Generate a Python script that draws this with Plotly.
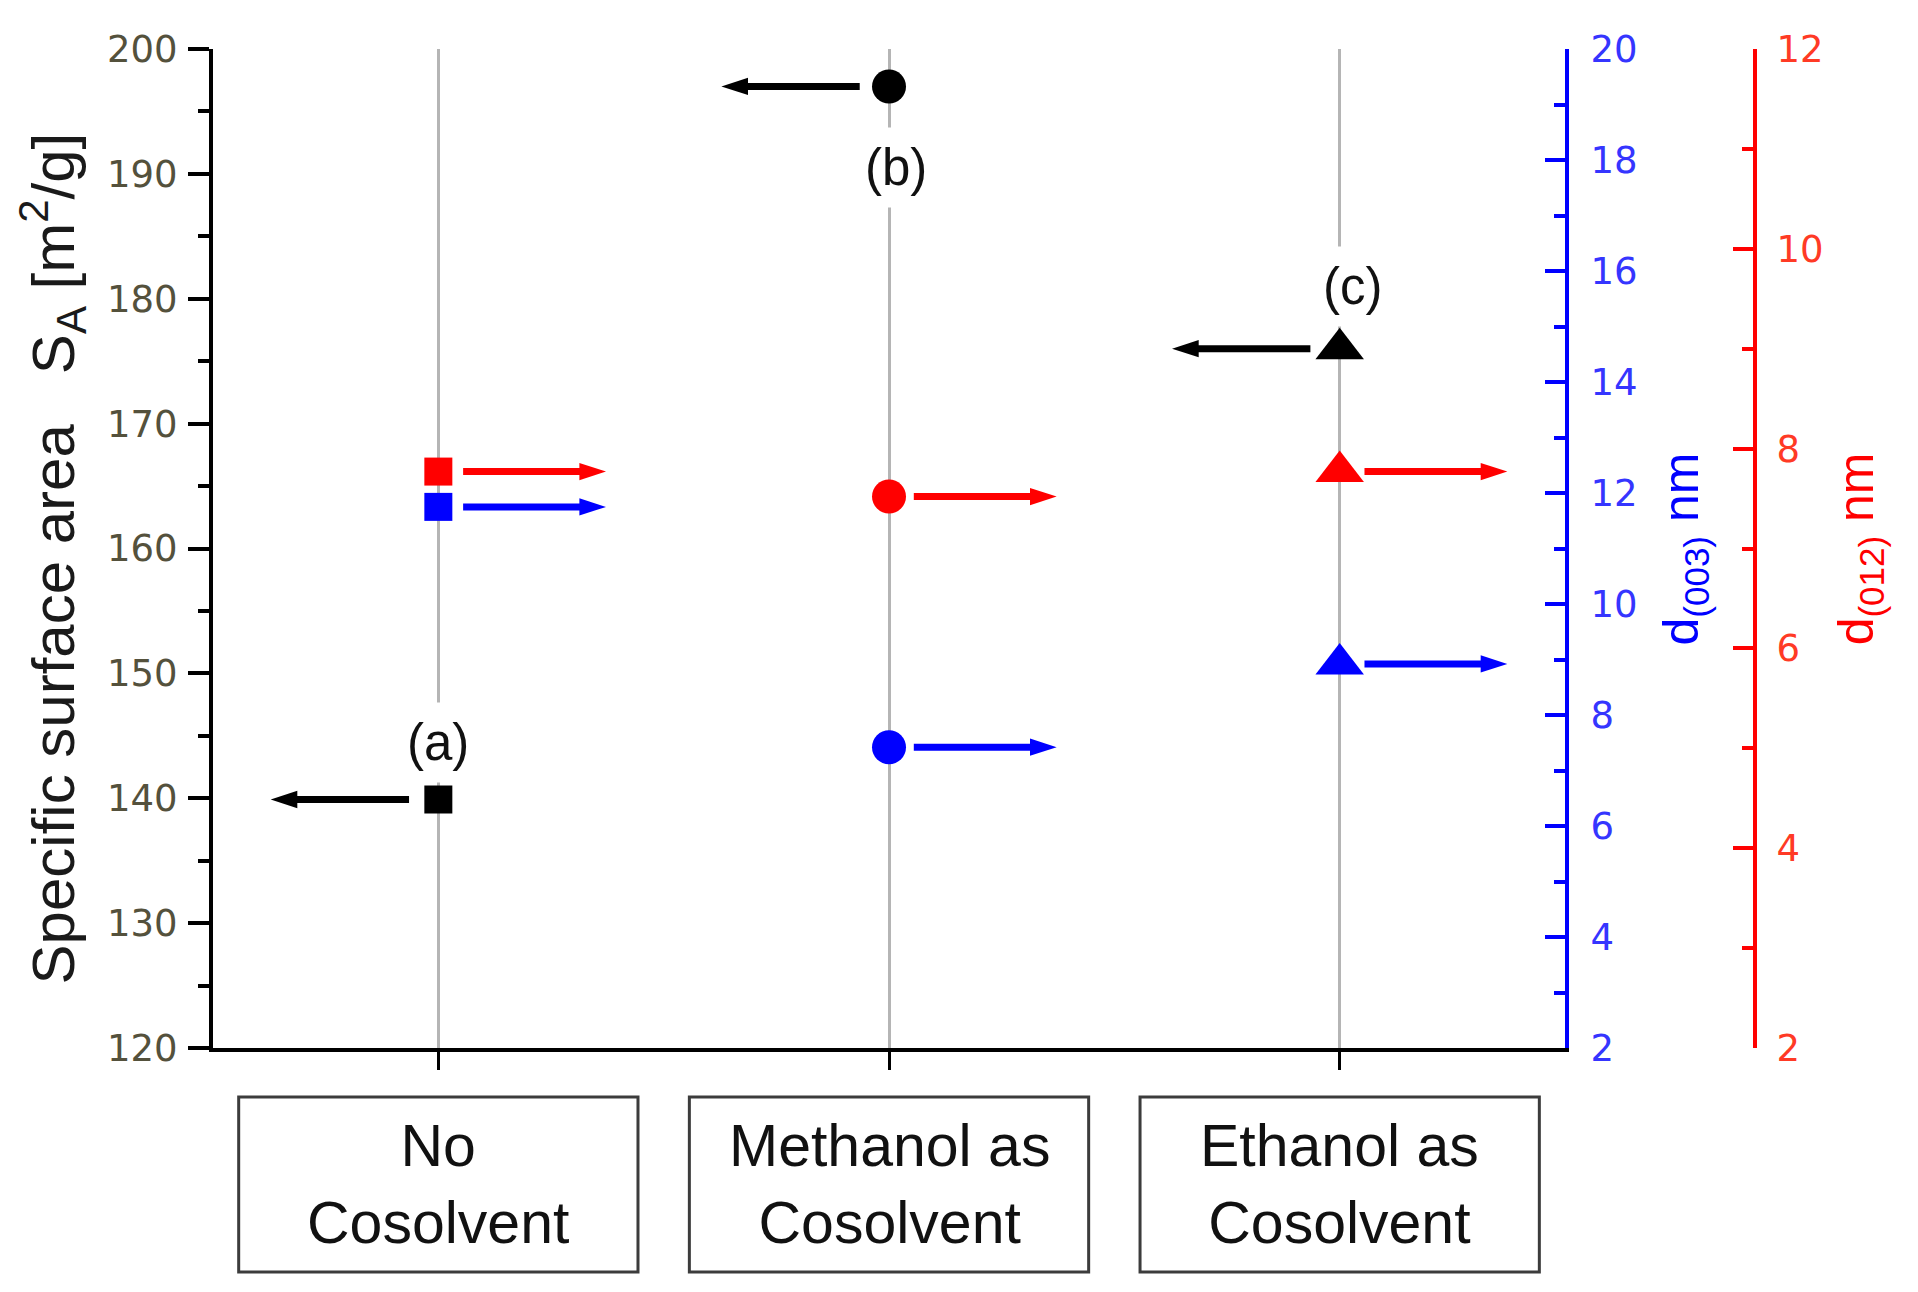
"""
Surface area and crystallite size of the LDH samples, by cosolvent.

Left axis: specific surface area (black). Right axes: d(003) (blue)
and d(012) (red) crystallite sizes. Arrows point at the axis each
marker belongs to.
"""

from __future__ import annotations

import plotly.graph_objects as go

# ---- data -----------------------------------------------------------------
CATEGORIES = ["No<br>Cosolvent", "Methanol as<br>Cosolvent", "Ethanol as<br>Cosolvent"]
SAMPLE_TAGS = ["(a)", "(b)", "(c)"]
SYMBOLS = ["square", "circle", "triangle-up"]

SURFACE_AREA = [139.9, 197.0, 176.0]  # m2/g
D003 = [11.75, 7.42, 8.92]  # nm
D012 = [7.77, 7.52, 7.77]  # nm

SA_TICKS = [120, 130, 140, 150, 160, 170, 180, 190, 200]
D003_TICKS = [2, 4, 6, 8, 10, 12, 14, 16, 18, 20]
D012_TICKS = [2, 4, 6, 8, 10, 12]

# ---- style ----------------------------------------------------------------
BLACK = "#000000"
BLUE = "#0000ff"
RED = "#ff0000"
GRID = "#b5b5b5"
SA_TICK_TEXT = "#54513c"
BLUE_TEXT = "#3535ff"
RED_TEXT = "#ff3a25"

TEXT_FONT = "Liberation Sans, Arial, sans-serif"
TICK_FONT = "DejaVu Sans, sans-serif"

MARKER_SIZE = {"square": 28, "circle": 34, "triangle-up": 42}

# page body has an 8px margin, so the figure is drawn 16px smaller
WIDTH, HEIGHT = 1902, 1276
X_DOMAIN_END = 0.8768  # blue axis sits here, red axis at the far right

# tag label offsets (px) relative to the black marker
TAG_SHIFT = [(0, 57), (7, -81), (13, 62)]


def _arrow_trace(xs, values, yaxis, color, direction, gap):
    """Horizontal arrows beside the markers, pointing at their axis."""
    ax, ay, sizes = [], [], []
    for x, v in zip(xs, values):
        ax += [x + direction * gap, x + direction * 0.372, None]
        ay += [v, v, None]
        sizes += [0, 28, 0]
    return go.Scatter(
        x=ax,
        y=ay,
        yaxis=yaxis,
        mode="lines+markers",
        line=dict(color=color, width=7),
        marker=dict(
            symbol="arrow",
            angleref="previous",
            size=sizes,
            color=color,
            opacity=1,
            line=dict(width=0),
        ),
        showlegend=False,
        hoverinfo="skip",
    )


def build_figure() -> go.Figure:
    xs = list(range(1, len(CATEGORIES) + 1))
    sizes = [MARKER_SIZE[s] for s in SYMBOLS]

    fig = go.Figure()
    fig.add_trace(_arrow_trace(xs, SURFACE_AREA, "y", BLACK, -1, 0.065))
    fig.add_trace(_arrow_trace(xs, D003, "y2", BLUE, 1, 0.055))
    fig.add_trace(_arrow_trace(xs, D012, "y3", RED, 1, 0.055))

    for values, color, yaxis in [
        (SURFACE_AREA, BLACK, "y"),
        (D003, BLUE, "y2"),
        (D012, RED, "y3"),
    ]:
        fig.add_trace(
            go.Scatter(
                x=xs,
                y=values,
                yaxis=yaxis,
                mode="markers",
                marker=dict(
                    symbol=SYMBOLS, size=sizes, color=color,
                    opacity=1, line=dict(width=0),
                ),
                showlegend=False,
                hoverinfo="y",
            )
        )

    annotations = []
    for i, x in enumerate(xs):
        dx, dy = TAG_SHIFT[i]
        annotations.append(
            dict(
                x=x, y=SURFACE_AREA[i], xref="x", yref="y",
                text=SAMPLE_TAGS[i], showarrow=False,
                xshift=dx, yshift=dy,
                font=dict(family=TEXT_FONT, size=51, color="#111111"),
                bgcolor="white", borderpad=11,
            )
        )

        # category label inside its box under the axis
        annotations.append(
            dict(
                x=x, y=-0.137, xref="x", yref="paper",
                text=CATEGORIES[i], showarrow=False,
                xanchor="center", yanchor="middle",
                font=dict(family=TEXT_FONT, size=59, color="#111111"),
            )
        )
        fig.add_shape(
            type="rect",
            xref="x", yref="paper",
            x0=x - 0.443, x1=x + 0.443,
            y0=-0.2242, y1=-0.049,
            line=dict(color="#3c3c3c", width=3),
            fillcolor="rgba(0,0,0,0)",
        )

    # axis titles
    annotations += [
        dict(
            x=-0.1038, y=0.49, xref="paper", yref="paper",
            text="Specific surface area&nbsp;&nbsp;&nbsp;S<sub>A</sub> [m<sup>2</sup>/g]",
            textangle=-90, showarrow=False,
            xanchor="center", yanchor="middle",
            font=dict(family=TEXT_FONT, size=60, color="#1a1a1a"),
        ),
        dict(
            x=0.9546, y=0.5, xref="paper", yref="paper",
            text="d<sub>(003)</sub> nm",
            textangle=-90, showarrow=False,
            xanchor="center", yanchor="middle",
            font=dict(family=TEXT_FONT, size=50, color=BLUE),
        ),
        dict(
            x=1.068, y=0.5, xref="paper", yref="paper",
            text="d<sub>(012)</sub> nm",
            textangle=-90, showarrow=False,
            xanchor="center", yanchor="middle",
            font=dict(family=TEXT_FONT, size=50, color=RED),
        ),
    ]

    fig.update_layout(
        width=WIDTH,
        height=HEIGHT,
        margin=dict(l=205, r=155, t=41, b=236),
        paper_bgcolor="white",
        plot_bgcolor="white",
        showlegend=False,
        annotations=annotations,
        xaxis=dict(
            domain=[0, X_DOMAIN_END],
            range=[0.5, len(CATEGORIES) + 0.5],
            tickvals=xs,
            showticklabels=False,
            ticks="outside", ticklen=18, tickwidth=3, tickcolor=BLACK,
            showline=True, linecolor=BLACK, linewidth=4,
            showgrid=True, gridcolor=GRID, gridwidth=3,
            zeroline=False,
        ),
        yaxis=dict(
            range=[SA_TICKS[0], SA_TICKS[-1]],
            tickvals=SA_TICKS,
            ticks="outside", ticklen=21, tickwidth=4, tickcolor=BLACK,
            minor=dict(tick0=SA_TICKS[0], dtick=5, ticks="outside",
                       ticklen=11, tickwidth=4, tickcolor=BLACK),
            showline=True, linecolor=BLACK, linewidth=4,
            showgrid=False, zeroline=False,
            tickfont=dict(family=TICK_FONT, size=37, color=SA_TICK_TEXT),
            ticklabelstandoff=3,
        ),
        yaxis2=dict(
            overlaying="y", side="right", anchor="x",
            range=[D003_TICKS[0], D003_TICKS[-1]],
            tickvals=D003_TICKS,
            ticks="inside", ticklen=20, tickwidth=4, tickcolor=BLUE,
            minor=dict(tick0=D003_TICKS[0], dtick=1, ticks="inside",
                       ticklen=11, tickwidth=4, tickcolor=BLUE),
            showline=True, linecolor=BLUE, linewidth=4,
            showgrid=False, zeroline=False,
            tickfont=dict(family=TICK_FONT, size=37, color=BLUE_TEXT),
            ticklabelstandoff=14,
        ),
        yaxis3=dict(
            overlaying="y", side="right", anchor="free", position=1.0,
            range=[D012_TICKS[0], D012_TICKS[-1]],
            tickvals=D012_TICKS,
            ticks="inside", ticklen=20, tickwidth=4, tickcolor=RED,
            minor=dict(tick0=D012_TICKS[0], dtick=1, ticks="inside",
                       ticklen=11, tickwidth=4, tickcolor=RED),
            showline=True, linecolor=RED, linewidth=4,
            showgrid=False, zeroline=False,
            tickfont=dict(family=TICK_FONT, size=37, color=RED_TEXT),
            ticklabelstandoff=12,
        ),
    )
    return fig


fig = build_figure()
fig.write_html("out.html")
